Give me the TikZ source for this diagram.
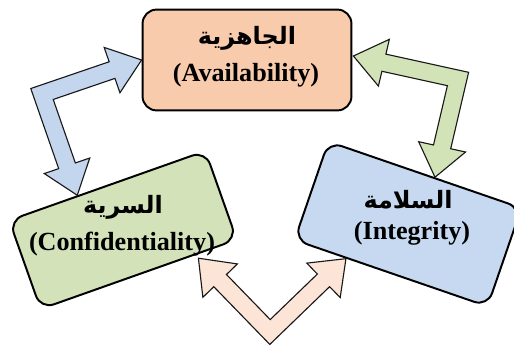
\documentclass[tikz,border=0pt]{standalone}
\usepackage{fontspec}
\setmainfont{Liberation Serif}
\newfontfamily\arabicfont[Script=Arabic]{DejaVu Sans}
\usetikzlibrary{calc}
\TeXXeTstate=1

\definecolor{availfill}{HTML}{F8CBAD}
\definecolor{conffill}{HTML}{D3E2B8}
\definecolor{integfill}{HTML}{C6D9F0}
\definecolor{bluearrow}{HTML}{C3D6EE}
\definecolor{greenarrow}{HTML}{D3E3B8}
\definecolor{peacharrow}{HTML}{FCE4D6}

\newcommand{\arrowshaft}{0.22cm}
\newcommand{\arrowhead}{0.6cm}
\newcommand{\arrowheadlen}{0.78cm}

% double headed block arrow with a right angle bend
% #1 fill, #2 first tip, #3 bend, #4 second tip
\newcommand{\bentarrow}[4]{%
  \coordinate (ha) at ($(#2)!\arrowheadlen!(#3)$);
  \coordinate (hb) at ($(#4)!\arrowheadlen!(#3)$);
  \draw[arrowbody, fill=#1]
    ($(#3)!-\arrowshaft!(#2) + (#3)!-\arrowshaft!(#4) - (#3)$)
    -- ($(ha) + (#3)!-\arrowshaft!(#4) - (#3)$)
    -- ($(ha) + (#3)!-\arrowhead!(#4) - (#3)$)
    -- (#2)
    -- ($(ha) + (#3)!\arrowhead!(#4) - (#3)$)
    -- ($(ha) + (#3)!\arrowshaft!(#4) - (#3)$)
    -- ($(#3)!\arrowshaft!(#2) + (#3)!\arrowshaft!(#4) - (#3)$)
    -- ($(hb) + (#3)!\arrowshaft!(#2) - (#3)$)
    -- ($(hb) + (#3)!\arrowhead!(#2) - (#3)$)
    -- (#4)
    -- ($(hb) + (#3)!-\arrowhead!(#2) - (#3)$)
    -- ($(hb) + (#3)!-\arrowshaft!(#2) - (#3)$)
    -- cycle;
}

\begin{document}
\begin{tikzpicture}[x=0.025cm, y=-0.025cm,
  box/.style={draw, line width=1.4pt, rounded corners=0.35cm, inner sep=0pt},
  arrowbody/.style={draw=black!90, line width=0.8pt, line join=miter},
  entext/.style={font=\fontsize{18.6}{20}\selectfont\bfseries},
  artext/.style={font=\arabicfont\fontsize{17}{20}\selectfont\bfseries}]
\useasboundingbox (0,0) rectangle (514,347);

% the three boxes
\node[box, fill=availfill, minimum width=5.22cm, minimum height=2.52cm] (avail) at (247,60) {};
\node[box, fill=conffill, minimum width=5.2cm, minimum height=2.35cm, rotate=19.5] (conf) at (123,230) {};
\node[box, fill=integfill, minimum width=5.1cm, minimum height=2.6cm, rotate=-19] (integ) at (408,224) {};

% arrow ends
\coordinate (blue-top) at (avail.west);
\coordinate (blue-bend) at (42,94);
\coordinate (blue-bot) at ($(conf.north)!0.3!(conf.north west)$);
\coordinate (green-top) at ($(avail.east)+(1,-4)$);
\coordinate (green-bend) at (458,79);
\coordinate (green-bot) at ($(integ.north)!0.1!(integ.north east)$);
\coordinate (peach-left) at ($(conf.south)!0.6!(conf.south east)+(0,4)$);
\coordinate (peach-bend) at (270,332);
\coordinate (peach-right) at ($(integ.south)!0.46!(integ.south west)$);

\bentarrow{bluearrow}{blue-top}{blue-bend}{blue-bot}
\bentarrow{greenarrow}{green-top}{green-bend}{green-bot}
\bentarrow{peacharrow}{peach-left}{peach-bend}{peach-right}

% labels
\node[artext] (avail-ar) at (247,38) {\beginR الجاهزية\endR};
\node[entext] (avail-en) at (246,75) {(Availability)};
\node[artext] (conf-ar) at (123,207) {\beginR السرية\endR};
\node[entext] (conf-en) at (122,244) {(Confidentiality)};
\node[artext] (integ-ar) at (408,200) {\beginR السلامة\endR};
\node[entext] (integ-en) at (412,233) {(Integrity)};
\end{tikzpicture}
\end{document}
